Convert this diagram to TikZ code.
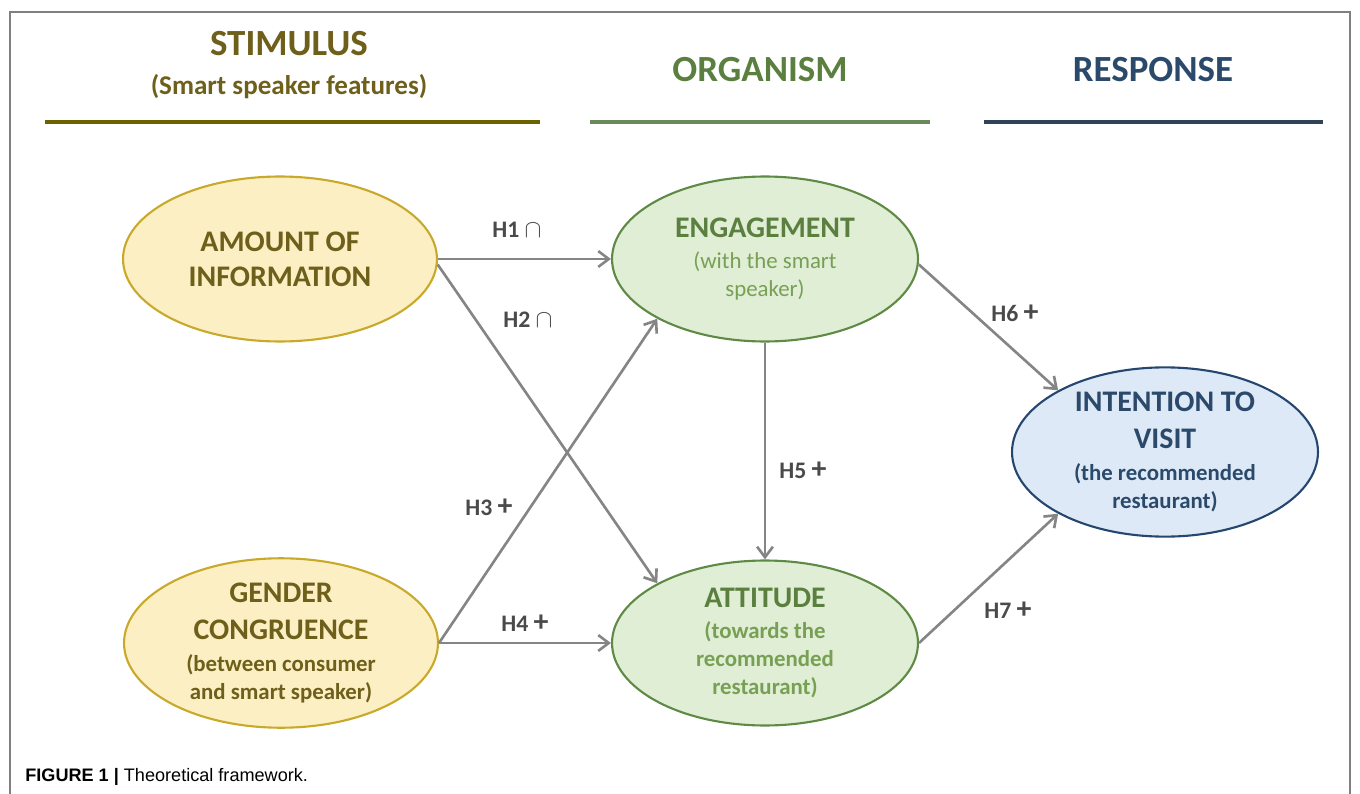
\documentclass[tikz,border=0pt]{standalone}
\usepackage{fontspec}
\setmainfont{Carlito}
\newfontfamily\capfont{Liberation Sans}
\usetikzlibrary{shapes.geometric,arrows.meta}

\definecolor{stimtext}{HTML}{6E5F1A}
\definecolor{stimline}{HTML}{6B6200}
\definecolor{stimfill}{HTML}{FCEFC4}
\definecolor{stimdraw}{HTML}{C9A92A}
\definecolor{orgtext}{HTML}{5B7F3F}
\definecolor{orgsub}{HTML}{78A055}
\definecolor{orgline}{HTML}{6A8A5A}
\definecolor{orgfill}{HTML}{DFEED4}
\definecolor{orgdraw}{HTML}{5E8A45}
\definecolor{resptext}{HTML}{2B4A6B}
\definecolor{respline}{HTML}{2F4258}
\definecolor{respfill}{HTML}{DDE9F6}
\definecolor{respdraw}{HTML}{25466F}
\definecolor{arrowgray}{HTML}{858585}
\definecolor{hypgray}{HTML}{4A4A4A}

\newcommand\headf{\fontsize{21}{25}\selectfont\bfseries}
\newcommand\mainf{\fontsize{17}{20}\selectfont\bfseries}
\newcommand\subf{\fontsize{13}{15.4}\selectfont\bfseries}

\begin{document}
\begin{tikzpicture}[x=0.02cm, y=-0.02cm,
    construct/.style={ellipse, line width=1.2pt, inner sep=0pt, align=center, font=\mainf},
    stim/.style={construct, draw=stimdraw, fill=stimfill, text=stimtext, minimum width=6.28cm, minimum height=3.3cm},
    org/.style={construct, draw=orgdraw, fill=orgfill, text=orgtext, minimum width=6.12cm, minimum height=3.3cm},
    resp/.style={construct, draw=respdraw, fill=respfill, text=resptext, minimum width=6.12cm, minimum height=3.28cm},
    hyp/.style={-{Straight Barb[length=6pt,width=9pt]}, arrowgray, line width=1.5pt},
    hyplabel/.style={text=hypgray, font=\fontsize{13.5}{16}\selectfont\bfseries}]

    \useasboundingbox (0,0) rectangle (1360,794);

    % Frame
    \draw[gray, line width=0.9pt] (10,794) -- (10,12) -- (1350,12) -- (1350,794);

    % Headers
    \node[text=stimtext, font=\headf] (stimhead) at (289,44) {STIMULUS};
    \node[text=stimtext, font=\fontsize{15.4}{18}\selectfont\bfseries] (stimsub) at (289,87) {(Smart speaker features)};
    \node[text=orgtext, font=\headf] (orghead) at (760,70) {ORGANISM};
    \node[text=resptext, font=\headf] (resphead) at (1153,70) {RESPONSE};
    \draw[stimline, line width=2.3pt] (45,122) -- (540,122);
    \draw[orgline, line width=2.3pt] (590,122) -- (930,122);
    \draw[respline, line width=2.3pt] (984,122) -- (1323,122);

    % Constructs
    \node[stim] (amount) at (280,259) {AMOUNT OF\\INFORMATION};
    \node[stim] (gender) at (281,643) {GENDER\\[1pt]CONGRUENCE\\[-2pt]\subf (between consumer\\[-4pt]\subf and smart speaker)};
    \node[org] (engage) at (765,259) {ENGAGEMENT\\[-2pt]\subf\color{orgsub}\mdseries (with the smart\\[-4pt]\subf\color{orgsub}\mdseries speaker)};
    \node[org] (attitude) at (765,643) {ATTITUDE\\[-2pt]\subf\color{orgsub} (towards the\\[-4pt]\subf\color{orgsub} recommended\\[-4pt]\subf\color{orgsub} restaurant)};
    \node[resp] (intent) at (1165,452) {INTENTION TO\\[1pt]VISIT\\[-2pt]\subf (the recommended\\[-4pt]\subf restaurant)};

    % Hypotheses
    \draw[hyp] (amount.east) -- (engage.west);
    \draw[hyp] (amount.-2) -- (attitude.151);
    \draw[hyp] (gender.east) -- (engage.209);
    \draw[hyp] (gender.east) -- (attitude.west);
    \draw[hyp] (engage.south) -- (attitude.north);
    \draw[hyp] (engage.-2) -- (intent.150);
    \draw[hyp] (attitude.east) -- (intent.210);

    \node[hyplabel] (h1) at (517,230) {H1 $\cap$};
    \node[hyplabel] (h2) at (528,320) {H2 $\cap$};
    \node[hyplabel] (h3) at (489,507) {H3 \fontsize{17}{17}\selectfont+};
    \node[hyplabel] (h4) at (525,623) {H4 \fontsize{17}{17}\selectfont+};
    \node[hyplabel] (h5) at (803,470) {H5 \fontsize{17}{17}\selectfont+};
    \node[hyplabel] (h6) at (1015,313) {H6 \fontsize{17}{17}\selectfont+};
    \node[hyplabel] (h7) at (1008,610) {H7 \fontsize{17}{17}\selectfont+};

    % Caption
    \node[anchor=west, inner sep=0pt, font=\capfont\fontsize{10.3}{12}\selectfont] (caption) at (25,777) {\textbf{FIGURE 1 |} Theoretical framework.};
\end{tikzpicture}
\end{document}
